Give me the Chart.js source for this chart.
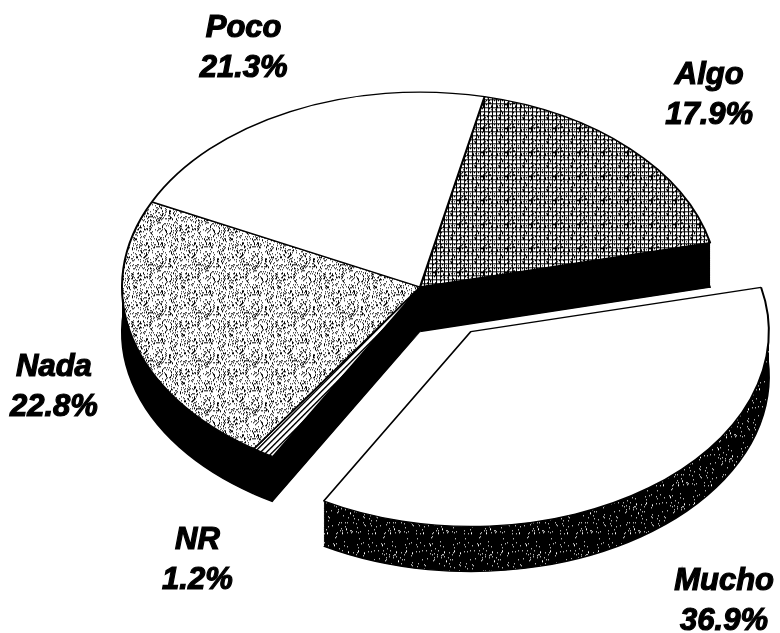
<!DOCTYPE html>
<html lang="es">
<head>
<meta charset="utf-8">
<title>Torta 3D</title>
<script src="https://cdn.jsdelivr.net/npm/chart.js@4"></script>
<style>
  html, body { margin: 0; padding: 0; background: #fff; overflow: hidden; }
  canvas { display: block; }
</style>
</head>
<body>
<canvas id="grafico" width="780" height="633"></canvas>
<script>
// Datos (orden horario empezando por "Algo")
const categorias = ['Algo', 'Mucho', 'NR', 'Nada', 'Poco'];
const valores = [17.9, 36.9, 1.2, 22.8, 21.3];

// Estilo del efecto 3D
const APLASTAR = 0.654;     // relación alto/ancho de la elipse
const PROFUNDIDAD = 45;     // alto de la pared en px de pantalla
const RADIO = 298;
const separacion = [0, 85, 0, 0, 0];          // "Mucho" va separada
const distEtiqueta = [1.38, 1.5, 1.42, 1.74, 1.36];
const FUENTE = 'bold italic 31px "Liberation Sans", Arial, sans-serif';

// Ruido determinista para las tramas (no son datos)
function ruido(x, y) {
  let h = Math.imul(x, 374761393) + Math.imul(y, 668265263) | 0;
  h = Math.imul(h ^ (h >>> 13), 1274126177);
  return ((h ^ (h >>> 16)) >>> 0) / 4294967296;
}

function crearTrama(tam, pintar) {
  const c = document.createElement('canvas');
  c.width = c.height = tam;
  const g = c.getContext('2d');
  g.fillStyle = '#fff';
  g.fillRect(0, 0, tam, tam);
  g.fillStyle = '#000';
  for (let y = 0; y < tam; y++) {
    for (let x = 0; x < tam; x++) {
      if (pintar(x, y)) g.fillRect(x, y, 1, 1);
    }
  }
  const trama = g.createPattern(c, 'repeat');
  // compensa el aplastamiento para que la trama no se deforme
  trama.setTransform(new DOMMatrix([1, 0, 0, 1 / APLASTAR, 0, 0]));
  return trama;
}

const tramaCuadricula = crearTrama(24, (x, y) => x % 4 === 0 || y % 4 === 0 || ruido(x, y) < 0.12);
const tramaPuntos = crearTrama(48, (x, y) => ruido(x + 7, y + 3) < 0.22);
const tramaRayas = crearTrama(6, (x, y) => (x + y) % 6 < 2);
const tramaParedMucho = crearTrama(48, (x, y) => ruido(x + 11, y + 5) > 0.05);

const rellenos = [tramaCuadricula, '#ffffff', tramaRayas, tramaPuntos, '#ffffff'];
const paredes = ['#000', tramaParedMucho, '#000', '#000', '#000'];

function centroArea(chart) {
  const a = chart.chartArea;
  return { cx: (a.left + a.right) / 2, cy: (a.top + a.bottom) / 2 };
}

const torta3d = {
  id: 'torta3d',
  afterDatasetUpdate(chart) {
    // desplaza las porciones separadas a lo largo de su ángulo medio
    chart.getDatasetMeta(0).data.forEach((arco, i) => {
      const d = separacion[i];
      if (!d) return;
      const medio = (arco.startAngle + arco.endAngle) / 2;
      arco.x += Math.cos(medio) * d;
      arco.y += Math.sin(medio) * d;
    });
  },
  beforeDatasetsDraw(chart) {
    const ctx = chart.ctx;
    const { cx, cy } = centroArea(chart);
    ctx.save();
    ctx.translate(cx, cy);
    ctx.scale(1, APLASTAR);
    ctx.translate(-cx, -cy);

    // paredes: copias de cada porción bajadas hasta la profundidad
    const arcos = chart.getDatasetMeta(0).data;
    const pasos = Math.ceil(PROFUNDIDAD / APLASTAR);
    const orden = arcos.map((_, i) => i).sort((a, b) => separacion[a] - separacion[b]);
    for (const i of orden) {
      const arco = arcos[i];
      ctx.fillStyle = paredes[i];
      for (let t = pasos; t >= 1; t--) {
        ctx.beginPath();
        ctx.moveTo(arco.x, arco.y + t);
        ctx.arc(arco.x, arco.y + t, arco.outerRadius, arco.startAngle, arco.endAngle);
        ctx.closePath();
        ctx.fill();
      }
      ctx.beginPath();
      ctx.arc(arco.x, arco.y + pasos, arco.outerRadius, arco.startAngle, arco.endAngle);
      ctx.lineWidth = 2;
      ctx.strokeStyle = '#000';
      ctx.stroke();
    }
  },
  afterDatasetsDraw(chart) {
    const ctx = chart.ctx;
    ctx.restore();

    const { cy } = centroArea(chart);
    const arcos = chart.getDatasetMeta(0).data;
    ctx.save();
    ctx.font = FUENTE;
    ctx.textAlign = 'center';
    ctx.textBaseline = 'middle';
    ctx.fillStyle = '#000';
    ctx.strokeStyle = '#000';
    ctx.lineWidth = 1.2;
    arcos.forEach((arco, i) => {
      const medio = (arco.startAngle + arco.endAngle) / 2;
      const f = distEtiqueta[i];
      const sx = arco.x;
      const sy = cy + (arco.y - cy) * APLASTAR;
      let x = sx + Math.cos(medio) * RADIO * f;
      const y = sy + Math.sin(medio) * RADIO * f * APLASTAR + PROFUNDIDAD * Math.max(0, Math.sin(medio));
      const lineas = [categorias[i], valores[i].toFixed(1) + '%'];
      const ancho = Math.max(...lineas.map(l => ctx.measureText(l).width));
      x = Math.min(Math.max(x, ancho / 2 + 10), chart.width - ancho / 2 - 6);
      lineas.forEach((texto, j) => {
        const ly = y + (j === 0 ? -20 : 20);
        ctx.fillText(texto, x, ly);
        ctx.strokeText(texto, x, ly);
      });
    });
    ctx.restore();
  }
};

new Chart(document.getElementById('grafico'), {
  type: 'pie',
  data: {
    labels: categorias,
    datasets: [{
      data: valores,
      backgroundColor: rellenos,
      borderColor: '#000',
      borderWidth: 2,
      radius: RADIO,
      rotation: 12.5,
      clip: false,
    }],
  },
  options: {
    responsive: false,
    animation: false,
    events: [],
    rotation: 12.5,
    layout: { padding: { left: 60, right: 0, top: 0, bottom: 59 } },
    plugins: {
      legend: { display: false },
      tooltip: { enabled: false },
    },
  },
  plugins: [torta3d],
});
</script>
</body>
</html>
